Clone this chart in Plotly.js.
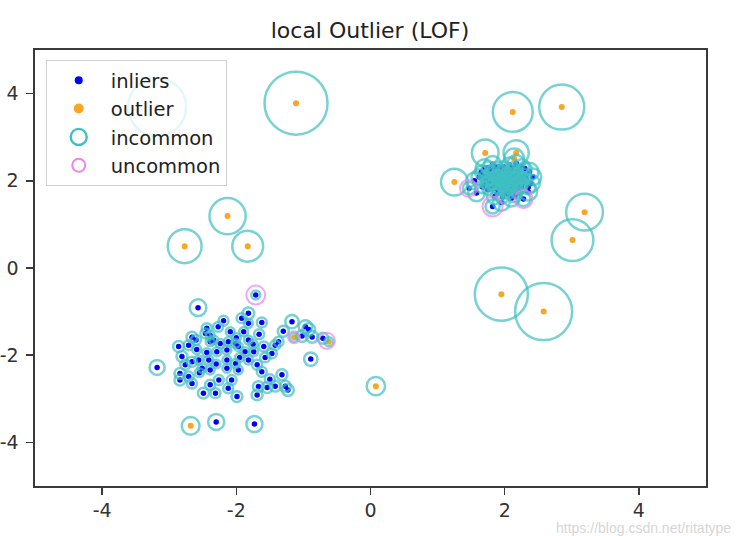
<!DOCTYPE html>
<html>
<head>
<meta charset="utf-8">
<script src="https://cdn.plot.ly/plotly-3.0.1.min.js"></script>
<style>html,body{margin:0;padding:0;background:#fff;}#chart{width:740px;height:536px;}</style>
</head>
<body>
<div id="chart"></div>
<script>
// ---- data ----
var chartTitle = "local Outlier (LOF)";
var tickVals = [-4, -2, 0, 2, 4];
var tickText = ["-4", "-2", "0", "2", "4"];
var seriesNames = ["inliers", "outlier", "incommon", "uncommon"];

// lower cluster inliers
var lowX = [-2.57,-1.71,-1.82,-2.19,-1.62,-1.17,-1.82,-2.27,-2.09,-1.89,-1.66,-2.46,-2.66,-2.39,-2.24,-2.12,-2.01,-1.82,-1.37,-1.02,-0.92,-0.87,-0.71,-2.86,-2.71,-2.59,-2.44,-2.29,-2.14,-1.97,-1.87,-1.74,-1.59,-1.42,-1.47,-1.57,-0.89,-2.81,-2.66,-2.76,-2.56,-2.41,-2.14,-2.01,-1.82,-1.69,-2.51,-2.39,-2.14,-1.97,-1.62,-3.18,-2.84,-2.71,-2.84,-2.66,-2.26,-2.39,-2.07,-2.12,-1.99,-2.31,-2.49,-1.67,-1.54,-1.42,-1.32,-1.23,-1.27,-1.69,-2.30,-1.73,-0.97,-1.92,-2.44,-2.39,-2.34,-2.00,-1.75,-2.30,-1.95,-2.55,-1.50,-2.60,-1.30];
var lowY = [-0.91,-0.62,-1.04,-1.21,-1.25,-1.23,-1.27,-1.35,-1.46,-1.46,-1.52,-1.50,-1.59,-1.69,-1.73,-1.69,-1.73,-1.65,-1.69,-1.56,-1.41,-1.58,-1.61,-1.80,-1.77,-1.87,-1.94,-1.92,-1.88,-1.80,-1.92,-1.92,-1.80,-1.77,-1.96,-2.05,-2.09,-2.03,-2.15,-2.22,-2.11,-2.11,-2.11,-2.19,-2.11,-2.22,-2.30,-2.34,-2.30,-2.34,-2.38,-2.28,-2.42,-2.49,-2.57,-2.65,-2.57,-2.68,-2.57,-2.76,-2.95,-2.87,-2.87,-2.72,-2.74,-2.71,-2.45,-2.80,-2.71,-2.91,-3.53,-3.58,-1.35,-1.15,-1.38,-1.54,-1.65,-1.60,-1.75,-2.20,-2.05,-2.40,-2.55,-1.65,-1.45];
var lowR = [0.07,0.02,0.035,0.025,0.025,0.045,0.02,0.025,0.02,0.02,0.025,0.025,0.03,0.02,0.02,0.02,0.02,0.02,0.025,0.035,0.04,0.035,0.03,0.03,0.025,0.02,0.02,0.02,0.02,0.02,0.02,0.02,0.025,0.025,0.025,0.025,0.045,0.03,0.025,0.025,0.02,0.02,0.02,0.02,0.02,0.025,0.02,0.02,0.02,0.02,0.025,0.057,0.03,0.025,0.03,0.025,0.025,0.025,0.025,0.025,0.03,0.025,0.03,0.03,0.03,0.03,0.03,0.035,0.03,0.03,0.065,0.065,0.045,0.025,0.025,0.02,0.02,0.02,0.02,0.02,0.02,0.02,0.025,0.025,0.03];

// upper cluster inliers
var upX = [1.47,1.82,2.28,1.70,2.37,2.42,2.39,2.07,2.17,1.62,1.85,2.10,2.22,1.67,1.55,1.58,2.35,1.95,2.25,1.82,
  2.00,1.92,2.05,1.98,2.10,1.88,2.15,1.85,2.02,1.92,2.12,1.78,2.22,1.95,2.08,1.80,2.28,1.75,2.18,1.90,2.30,1.70,2.05,1.98,2.08,1.95,2.02,1.87,2.12,1.93,2.06,1.83,2.18,1.98,2.13,1.88,1.72,2.25,2.20,1.80,2.00,1.96,2.04,1.90,2.14,1.86,2.10,1.76,2.32,1.97,2.15,1.65,1.75,2.30,2.35,
  1.94,2.09,1.84,2.17,2.01,1.89,2.24,1.73,2.03,1.99,2.27,1.81,2.11,1.91];
var upY = [1.83,1.41,1.58,2.29,2.21,2.09,1.94,2.36,2.40,2.09,1.64,1.60,1.83,1.86,2.00,1.72,1.75,1.50,2.32,2.38,
  2.17,2.02,2.05,1.92,1.98,1.92,2.12,2.12,1.82,1.78,1.85,2.02,2.02,2.25,2.25,2.22,1.95,1.80,1.72,2.32,2.15,2.10,1.70,2.10,2.12,1.98,1.95,2.05,2.05,1.88,1.88,1.98,1.93,2.32,2.30,1.70,1.95,1.85,2.20,1.88,2.00,2.06,2.13,2.15,1.95,1.83,1.78,2.15,2.05,1.63,1.65,2.20,2.30,2.28,1.85,
  2.08,1.92,2.27,2.01,1.74,1.99,2.10,2.02,2.20,1.86,2.07,1.92,2.18,1.95];
var upR = [0.04,0.05,0.05,0.08,0.08,0.07,0.08,0.06,0.07,0.06,0.06,0.07,0.04,0.04,0.07,0.07,0.08,0.07,0.06,0.07,
  0.02,0.02,0.02,0.02,0.02,0.02,0.02,0.02,0.025,0.025,0.025,0.025,0.025,0.025,0.025,0.03,0.03,0.03,0.03,0.03,0.03,0.03,0.03,0.02,0.02,0.02,0.02,0.02,0.02,0.02,0.02,0.025,0.025,0.03,0.03,0.03,0.03,0.03,0.025,0.025,0.02,0.02,0.02,0.02,0.02,0.025,0.025,0.03,0.03,0.04,0.04,0.04,0.04,0.045,0.05,
  0.02,0.02,0.03,0.02,0.03,0.02,0.03,0.03,0.025,0.02,0.03,0.025,0.025,0.02];

// outliers
var outX = [-1.11,-3.18,2.12,2.85,3.19,3.01,1.95,2.58,-2.13,-2.77,-1.83,0.08,-2.68,1.71,1.25,2.17,2.14,-1.14,-0.62];
var outY = [3.78,3.69,3.58,3.69,1.28,0.64,-0.60,-1.00,1.19,0.50,0.50,-2.71,-3.62,2.64,1.97,2.64,2.51,-1.59,-1.69];
var outR = [1.00,0.85,0.40,0.51,0.34,0.44,0.71,0.82,0.33,0.29,0.24,0.085,0.08,0.18,0.18,0.16,0.10,0.02,0.02];

// uncommon (violet) circles
var uncX = [-1.71,-1.14,-0.65,1.46,1.82,2.28];
var uncY = [-0.62,-1.59,-1.67,1.83,1.41,1.58];
var uncR = [0.09,0.036,0.065,0.073,0.10,0.082];

// ---- styling / drawing ----
var CIRCLE_SCALE = 63; // px diameter for a normalised LOF radius of 1
function toSize(arr){ return arr.map(function(r){ return CIRCLE_SCALE*Math.sqrt(r); }); }

var inX = lowX.concat(upX), inY = lowY.concat(upY), inR = lowR.concat(upR);
var allX = inX.concat(outX), allY = inY.concat(outY), allR = inR.concat(outR);

var CYAN = "#3fc0c2", VIOLET = "#ee82ee", BLUE = "#0000ff", ORANGE = "#f9a526";

var traces = [
  {type:"scatter", mode:"markers", x:inX, y:inY, showlegend:false, hoverinfo:"skip",
   marker:{color:BLUE, size:5.5, line:{width:0}}},
  {type:"scatter", mode:"markers", x:outX, y:outY, showlegend:false, hoverinfo:"skip",
   marker:{color:ORANGE, size:6, symbol:"circle", line:{width:0}}},
  {type:"scatter", mode:"markers", x:allX, y:allY, showlegend:false, hoverinfo:"skip",
   marker:{color:"rgba(0,0,0,0)", size:toSize(allR), line:{color:CYAN, width:2.5}}},
  {type:"scatter", mode:"markers", x:uncX, y:uncY, showlegend:false, hoverinfo:"skip",
   marker:{color:"rgba(0,0,0,0)", size:toSize(uncR), line:{color:VIOLET, width:2}}},
  // legend proxies (no data points)
  {type:"scatter", mode:"markers", x:[null], y:[null], name:seriesNames[0],
   marker:{color:BLUE, size:8}},
  {type:"scatter", mode:"markers", x:[null], y:[null], name:seriesNames[1],
   marker:{color:ORANGE, size:10}},
  {type:"scatter", mode:"markers", x:[null], y:[null], name:seriesNames[2],
   marker:{color:"rgba(0,0,0,0)", size:16, line:{color:CYAN, width:2.4}}},
  {type:"scatter", mode:"markers", x:[null], y:[null], name:seriesNames[3],
   marker:{color:"rgba(0,0,0,0)", size:13, line:{color:VIOLET, width:2}}}
];

var axisCommon = {
  range:[-5,5], showgrid:false, zeroline:false, showline:true, mirror:true,
  linecolor:"#3a3a3a", linewidth:1.6, ticks:"outside", ticklen:7, tickwidth:1.5,
  tickcolor:"#3a3a3a", tickmode:"array", tickvals:tickVals, ticktext:tickText,
  tickfont:{family:"DejaVu Sans", size:19, color:"#333"}
};

var layout = {
  width:740, height:536,
  margin:{l:35, r:34, t:50, b:50},
  paper_bgcolor:"#fff", plot_bgcolor:"#fff",
  title:{text:chartTitle, font:{family:"DejaVu Sans", size:22, color:"#222"},
         x:0.5, xanchor:"center", y:0.944, yanchor:"middle", yref:"container"},
  xaxis:Object.assign({}, axisCommon),
  yaxis:Object.assign({}, axisCommon, {ticklabelstandoff:4}),
  showlegend:true,
  legend:{x:0.016, y:0.977, xanchor:"left", yanchor:"top",
          bgcolor:"rgba(255,255,255,0.8)", bordercolor:"#d0d0d0", borderwidth:1,
          font:{family:"DejaVu Sans", size:19.5, color:"#222"}, itemwidth:54,
          itemsizing:"trace"},
  annotations:[{text:"https://blog.csdn.net/ritatype", xref:"paper", yref:"paper",
    x:1.04, y:-0.097, xanchor:"right", yanchor:"middle", showarrow:false,
    font:{family:"Liberation Sans", size:14, color:"#d6d6d6"}}]
};

Plotly.newPlot("chart", traces, layout, {displayModeBar:false, staticPlot:true});
</script>
</body>
</html>
